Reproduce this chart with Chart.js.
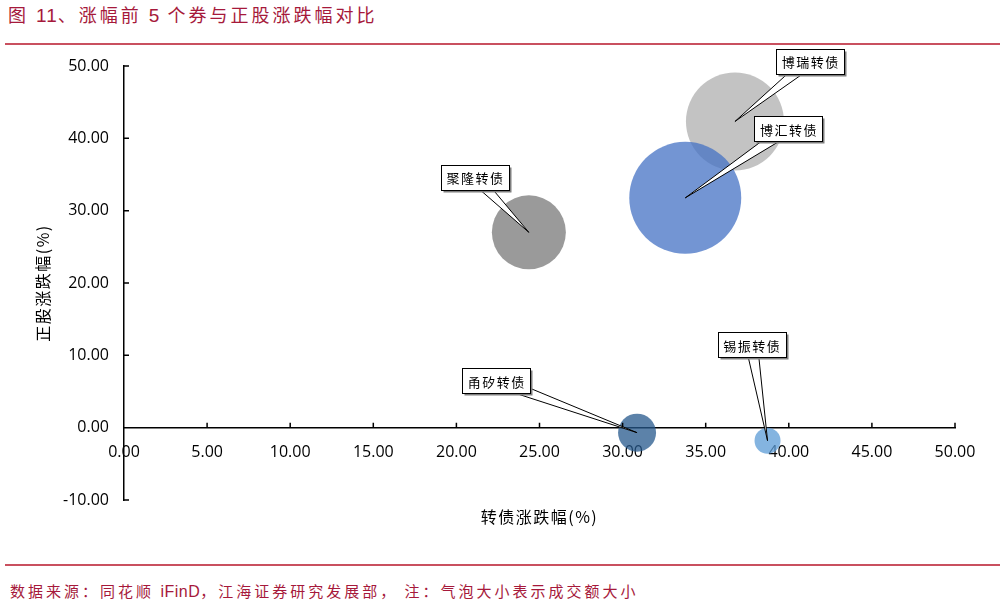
<!DOCTYPE html>
<html>
<head>
<meta charset="utf-8">
<script src="https://cdn.jsdelivr.net/npm/chart.js@4.4.1/dist/chart.umd.min.js"></script>
<style>
  body { margin: 0; background: #fff; width: 1004px; height: 608px; overflow: hidden; position: relative; font-family: "Noto Sans CJK SC", sans-serif; }
  #title { position: absolute; left: 8px; top: 1px; font-size: 18px; letter-spacing: 3px; color: #a6193b; white-space: nowrap; }
  #title .num { font-family: "Liberation Sans", Arial, sans-serif; font-size: 19px; letter-spacing: 1px; }
  #foot .num { font-family: "Liberation Sans", Arial, sans-serif; font-size: 16px; letter-spacing: 0.5px; }
  .rule { position: absolute; left: 5px; right: 4px; height: 1.5px; background: #c9505f; }
  #foot { position: absolute; left: 10px; top: 580px; font-size: 15px; letter-spacing: 3px; color: #a6193b; white-space: nowrap; }
  canvas { position: absolute; left: 0; top: 0; }
</style>
</head>
<body>
<div id="title">图 <span class="num">11</span>、涨幅前 <span class="num">5</span> 个券与正股涨跌幅对比</div>
<div class="rule" style="top:43px"></div>
<div class="rule" style="top:564px"></div>
<div id="foot">数据来源：同花顺 <span class="num">iFinD</span>，江海证券研究发展部， 注：气泡大小表示成交额大小</div>
<canvas id="bubbleChart" width="1004" height="608"></canvas>

<script>
// 数据
const bonds = ['博瑞转债', '博汇转债', '聚隆转债', '甬矽转债', '锡振转债'];
const bondChg = [36.76, 33.77, 24.36, 30.87, 38.72];   // 转债涨跌幅(%)
const stockChg = [42.33, 31.77, 27.00, -0.69, -1.80];  // 正股涨跌幅(%)
const bubbleSize = [49, 56, 37, 19, 13];               // 成交额 -> 气泡半径
const bubbleColors = [
    'rgba(175,175,175,0.75)',
    'rgba(68,114,196,0.75)',
    'rgba(120,120,120,0.75)',
    'rgba(38,88,140,0.75)',
    'rgba(91,155,213,0.75)'
];
// 标注框相对气泡中心的偏移
const calloutOffset = [[75, -60], [103, -69], [-54, -55], [-141, -52], [-16, -96]];

const tickFont = { family: 'Open Sans', size: 16 };

// 刻度线朝内 + 坐标轴标题
const axisExtras = {
    id: 'axisExtras',
    afterDraw(chart) {
        const ctx = chart.ctx;
        const xs = chart.scales.x, ys = chart.scales.y;
        const x0 = xs.getPixelForValue(0), y0 = ys.getPixelForValue(0);
        ctx.save();
        ctx.strokeStyle = '#000';
        ctx.lineWidth = 1.5;
        ctx.beginPath();
        xs.ticks.forEach(t => {
            if (t.value === 0) return;
            const p = xs.getPixelForValue(t.value);
            ctx.moveTo(p, y0); ctx.lineTo(p, y0 - 5);
        });
        ys.ticks.forEach(t => {
            if (t.value === 0) return;
            const p = ys.getPixelForValue(t.value);
            ctx.moveTo(x0, p); ctx.lineTo(x0 + 5, p);
        });
        ctx.stroke();

        ctx.fillStyle = '#000';
        ctx.font = '16px "Noto Sans CJK SC"';
        ctx.letterSpacing = '1.5px';
        ctx.textAlign = 'center';
        ctx.textBaseline = 'middle';
        ctx.fillText('转债涨跌幅(%)', (chart.chartArea.left + chart.chartArea.right) / 2, 517);
        ctx.translate(43, (chart.chartArea.top + chart.chartArea.bottom) / 2);
        ctx.rotate(-Math.PI / 2);
        ctx.fillText('正股涨跌幅(%)', 0, 0);
        ctx.restore();
    }
};

// 标注框
const callouts = {
    id: 'callouts',
    afterDatasetsDraw(chart) {
        const ctx = chart.ctx;
        const meta = chart.getDatasetMeta(0);
        ctx.save();
        meta.data.forEach((pt, i) => {
            const px = pt.x, py = pt.y;
            const bx = px + calloutOffset[i][0], by = py + calloutOffset[i][1];
            const ang = Math.atan2(py - by, px - bx);
            const nx = -Math.sin(ang) * 6, ny = Math.cos(ang) * 6;
            ctx.beginPath();
            ctx.moveTo(bx + nx, by + ny);
            ctx.lineTo(px, py);
            ctx.lineTo(bx - nx, by - ny);
            ctx.closePath();
            ctx.fillStyle = '#fff';
            ctx.fill();
            ctx.strokeStyle = '#000';
            ctx.lineWidth = 1;
            ctx.stroke();

            const w = 68, h = 25;
            const l = Math.round(bx - w / 2) + 0.5, t = Math.round(by - h / 2) + 0.5;
            ctx.fillStyle = '#7f7f7f';
            ctx.fillRect(l + 2, t + 2, w, h);
            ctx.fillStyle = '#fff';
            ctx.fillRect(l, t, w, h);
            ctx.strokeRect(l, t, w, h);

            ctx.fillStyle = '#000';
            ctx.font = '13px "Noto Sans CJK SC"';
            ctx.textAlign = 'center';
            ctx.textBaseline = 'middle';
            const chars = bonds[i].split('');
            chars.forEach((c, k) => {
                ctx.fillText(c, bx + (k - 1.5) * 14.5, by + 1);
            });
        });
        ctx.restore();
    }
};

const ctx = document.getElementById('bubbleChart').getContext('2d');
new Chart(ctx, {
    type: 'bubble',
    data: {
        datasets: [{
            label: '涨幅前5',
            data: bonds.map((b, i) => ({ x: bondChg[i], y: stockChg[i], r: bubbleSize[i] })),
            backgroundColor: bubbleColors,
            borderWidth: 0,
            hoverBorderWidth: 0
        }]
    },
    options: {
        responsive: false,
        animation: false,
        layout: { autoPadding: false, padding: { top: 66, right: 49, bottom: 108, left: 0 } },
        plugins: { legend: { display: false }, tooltip: { enabled: false } },
        scales: {
            x: {
                type: 'linear',
                position: { y: 0 },
                min: 0, max: 50,
                afterFit: s => { s.height = 0; s.paddingLeft = 0; s.paddingRight = 0; },
                grid: { display: false, drawTicks: false },
                border: { color: '#000', width: 1.5 },
                ticks: {
                    stepSize: 5, padding: 15, color: '#000', font: tickFont,
                    maxRotation: 0, autoSkip: false,
                    callback: v => Number(v).toFixed(2)
                }
            },
            y: {
                type: 'linear',
                position: 'left',
                min: -10, max: 50,
                afterFit: s => { s.width = 124; s.paddingTop = 0; s.paddingBottom = 0; },
                grid: { display: false, drawTicks: false },
                border: { color: '#000', width: 1.5 },
                ticks: {
                    stepSize: 10, padding: 15, color: '#000', font: tickFont,
                    callback: v => Number(v).toFixed(2)
                }
            }
        }
    },
    plugins: [callouts, axisExtras]
});
</script>
</body>
</html>
